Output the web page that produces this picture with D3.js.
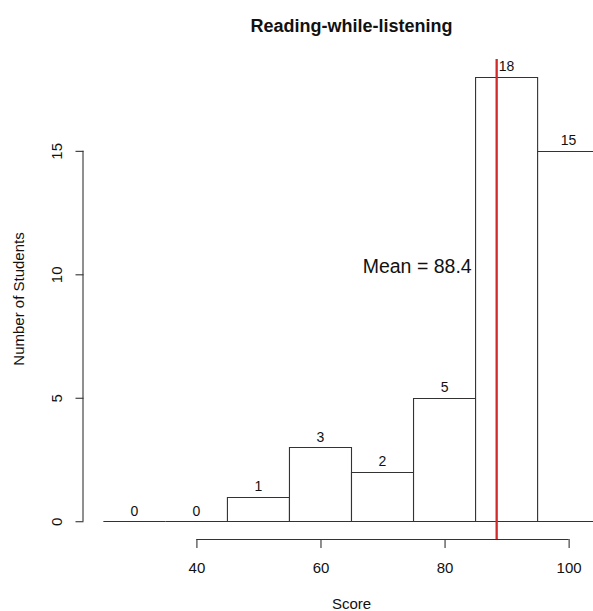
<!DOCTYPE html>
<html>
<head>
<meta charset="utf-8">
<script src="https://cdn.jsdelivr.net/npm/d3@7"></script>
<style>
  html, body { margin: 0; padding: 0; background: #fff; }
  svg { display: block; }
  text { font-family: "Liberation Sans", Arial, Helvetica, sans-serif; fill: #111; }
</style>
</head>
<body>
<svg id="chart" width="593" height="611"></svg>
<script>
// ---- data ----
const binStarts = [25, 35, 45, 55, 65, 75, 85, 95];
const binEnds   = [35, 45, 55, 65, 75, 85, 95, 105];
const counts    = [0, 0, 1, 3, 2, 5, 18, 15];
const xTicks    = [40, 60, 80, 100];
const yTicks    = [0, 5, 10, 15];
const meanScore = 88.4;
const title     = "Reading-while-listening";
const xLabel    = "Score";
const yLabel    = "Number of Students";

// ---- scales ----
const svg = d3.select("#chart");
const x = d3.scaleLinear().domain([21.8, 108.2]).range([83.5, 619.5]);
const y = d3.scaleLinear().domain([-0.72, 18.72]).range([539, 59]);

const bins = binStarts.map((s, i) => ({ x0: s, x1: binEnds[i], n: counts[i] }));
const y0px = Math.round(y(0)) + 0.5;

// bars (outline of each bin, zero-height bins show as baseline segments)
svg.append("g").selectAll("path").data(bins).join("path")
  .attr("d", d => {
    const xa = x(d.x0), xb = x(d.x1), yt = Math.round(y(d.n)) + 0.5;
    return `M${xa},${y0px}V${yt}H${xb}V${y0px}Z`;
  })
  .attr("fill", "#fff")
  .attr("stroke", "#333")
  .attr("stroke-width", 1.1);

// count labels
svg.append("g").selectAll("text").data(bins).join("text")
  .attr("x", d => x((d.x0 + d.x1) / 2))
  .attr("y", d => y(d.n) - 5.5)
  .attr("text-anchor", "middle")
  .attr("font-size", 14)
  .text(d => d.n);

// mean line
svg.append("line")
  .attr("x1", x(meanScore)).attr("x2", x(meanScore))
  .attr("y1", y.range()[1]).attr("y2", y.range()[0])
  .attr("stroke", "#d02a2a")
  .attr("stroke-width", 2.3);

svg.append("text")
  .attr("x", x(meanScore) - 25)
  .attr("y", y(10.05))
  .attr("text-anchor", "end")
  .attr("font-size", 19.5)
  .text("Mean = " + meanScore);

// x axis
const xAxis = svg.append("g")
  .attr("transform", `translate(0,${y.range()[0]})`)
  .call(d3.axisBottom(x).tickValues(xTicks).tickSize(9).tickPadding(14).tickSizeOuter(0));
xAxis.select(".domain").attr("d", `M${x(xTicks[0])},0.5H${x(xTicks[xTicks.length-1])}`);
xAxis.selectAll("path, line").attr("stroke", "#333").attr("stroke-width", 1.1);
xAxis.selectAll("text").attr("font-size", 15).attr("fill", "#111")
  .attr("font-family", '"Liberation Sans", Arial, Helvetica, sans-serif');

// y axis
const yAxis = svg.append("g")
  .attr("transform", `translate(${x.range()[0]},0)`)
  .call(d3.axisLeft(y).tickValues(yTicks).tickSize(8).tickSizeOuter(0));
yAxis.select(".domain").attr("d", `M-0.5,${y(yTicks[0])}V${y(yTicks[yTicks.length-1])}`);
yAxis.selectAll("path, line").attr("stroke", "#333").attr("stroke-width", 1.1);
yAxis.selectAll("text")
  .attr("font-size", 15).attr("fill", "#111")
  .attr("font-family", '"Liberation Sans", Arial, Helvetica, sans-serif')
  .attr("transform", "rotate(-90)")
  .attr("x", 0).attr("y", -21.5).attr("dy", 0)
  .attr("text-anchor", "middle");

// title & axis labels
const cx = (x.range()[0] + x.range()[1]) / 2;
svg.append("text")
  .attr("x", cx).attr("y", 32)
  .attr("text-anchor", "middle")
  .attr("font-size", 18).attr("font-weight", "bold")
  .text(title);

svg.append("text")
  .attr("x", cx).attr("y", 609)
  .attr("text-anchor", "middle")
  .attr("font-size", 15)
  .text(xLabel);

const cy = (y.range()[0] + y.range()[1]) / 2;
svg.append("text")
  .attr("transform", `translate(24,${cy}) rotate(-90)`)
  .attr("text-anchor", "middle")
  .attr("font-size", 15)
  .text(yLabel);
</script>
</body>
</html>
